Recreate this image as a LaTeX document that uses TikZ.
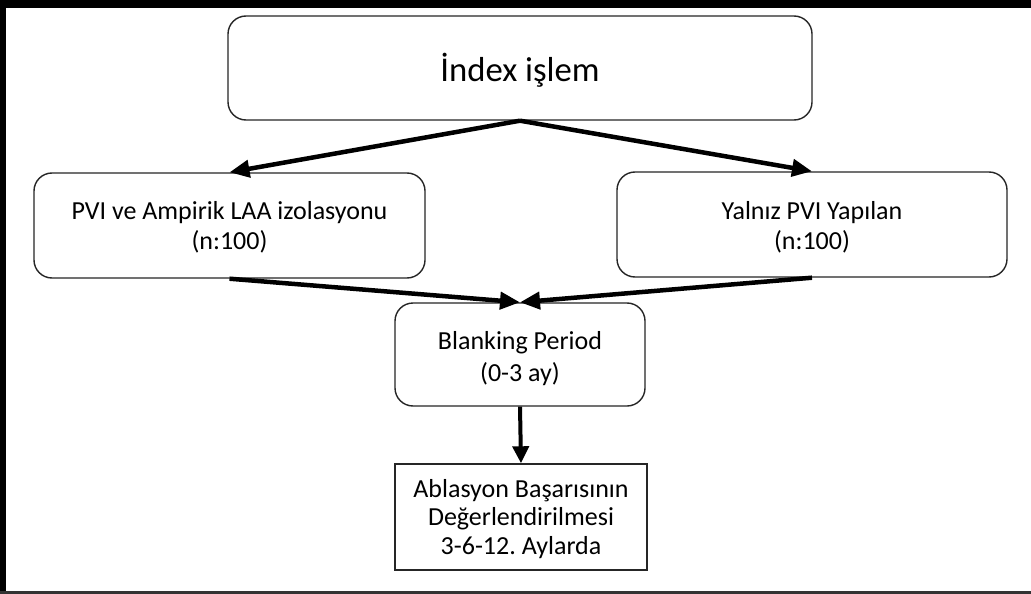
\documentclass[tikz,border=0pt]{standalone}
\usepackage{fontspec}
\setmainfont{Carlito}
\usetikzlibrary{arrows.meta}
\frenchspacing
\tikzset{
  rbox/.style={draw=black!85, line width=1.4pt, rounded corners=18pt, inner sep=0pt},
  sbox/.style={draw=black!85, line width=1.4pt, inner sep=0pt},
  txt/.style={align=center, inner sep=0pt, font=\fontsize{26}{30}\selectfont},
  bigarrow/.style={line width=4.5pt, -{Triangle[length=20pt,width=17pt]}},
}
\begin{document}
\begin{tikzpicture}[x=1pt,y=-1pt]
\useasboundingbox (0,0) rectangle (1031,594);
\fill[white] (0,0) rectangle (1031,594);
\fill[black] (0,0) rectangle (1031,8);
\fill[black] (0,0) rectangle (6,594);
\fill[black!80] (0,591) rectangle (1031,594);

\node[rbox, minimum width=584pt, minimum height=104pt] (top) at (520,68) {};
\node[txt, font=\fontsize{34.7}{40}\selectfont] (toptxt) at ([yshift=-2pt]top.center) {İndex işlem};

\node[rbox, minimum width=391pt, minimum height=105pt] (left) at (229.5,225.5) {};
\node[txt] (lefttxt) at ([yshift=-2pt]left.center) {PVI ve Ampirik LAA izolasyonu\\(n:100)};

\node[rbox, minimum width=390pt, minimum height=105pt] (right) at (812,224.5) {};
\node[txt] (righttxt) at ([yshift=-3pt]right.center) {Yalnız PVI Yapılan\\(n:100)};

\node[rbox, minimum width=250pt, minimum height=103pt] (blank) at (520,354.5) {};
\node[txt, font=\fontsize{26}{32}\selectfont] (blanktxt) at ([yshift=-4pt]blank.center) {Blanking Period\\(0-3 ay)};

\node[sbox, minimum width=252pt, minimum height=106pt] (abl) at (521,517) {};
\node[txt, font=\fontsize{26}{28.5}\selectfont] (abltxt) at ([yshift=-2pt]abl.center) {Ablasyon Başarısının\\Değerlendirilmesi\\3-6-12. Aylarda};

\draw[bigarrow] (top.south) -- (left.north);
\draw[bigarrow] (top.south) -- (right.north);
\draw[bigarrow] (left.south) -- (blank.north);
\draw[bigarrow] (right.south) -- (blank.north);
\draw[line width=4pt, -{Triangle[length=17pt,width=16pt]}] (blank.south) -- (abl.north);
\end{tikzpicture}
\end{document}
